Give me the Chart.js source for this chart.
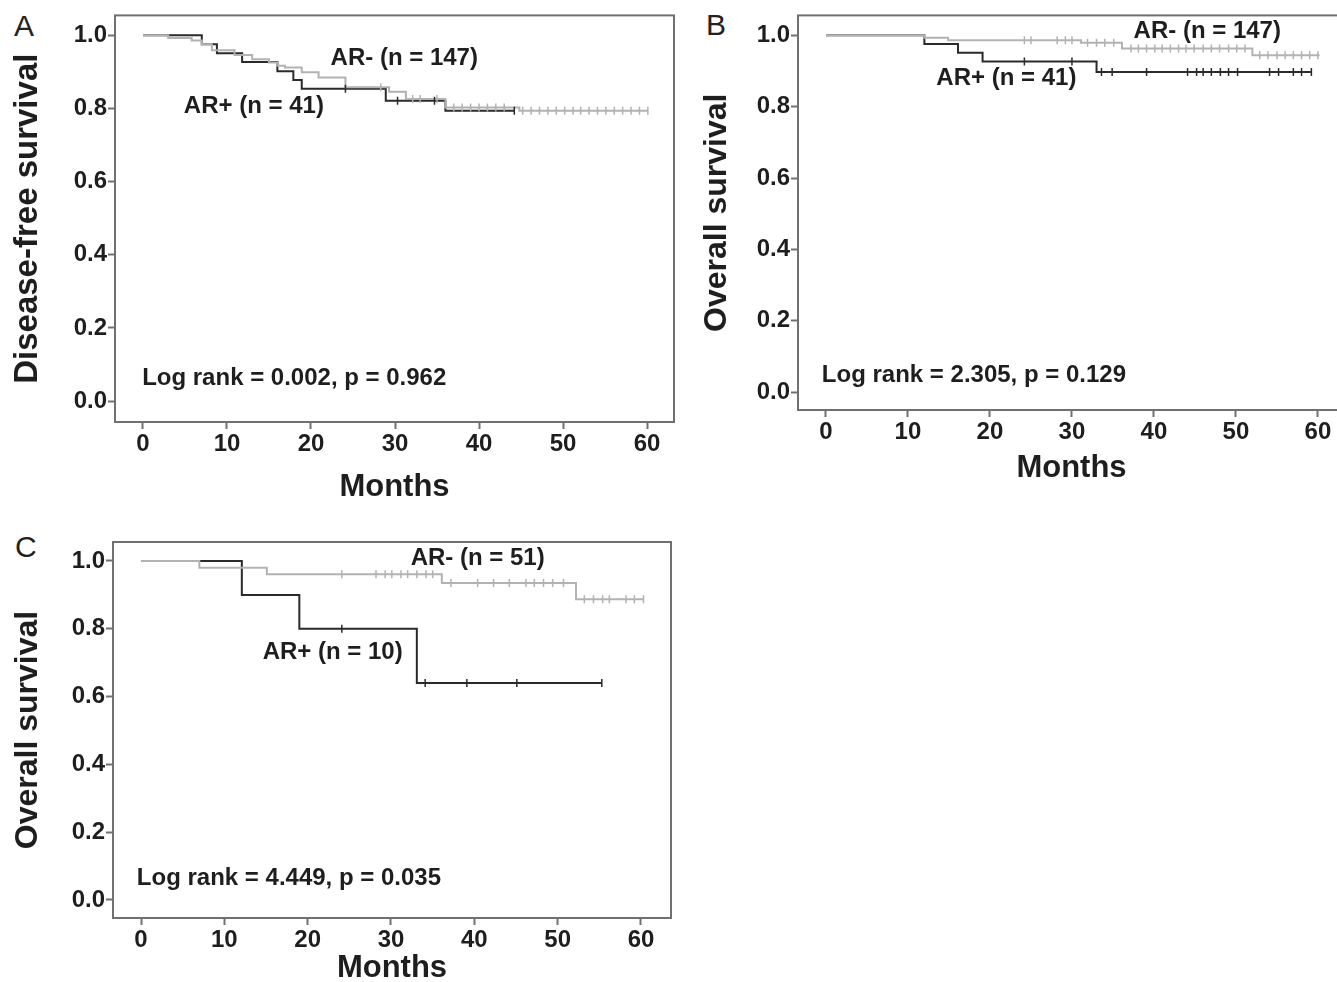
<!DOCTYPE html>
<html>
<head>
<meta charset="utf-8">
<script src="https://cdn.jsdelivr.net/npm/chart.js@4.4.0/dist/chart.umd.min.js"></script>
<style>
  html, body { margin: 0; padding: 0; background: #fff; overflow: hidden; width: 1337px; height: 982px; }
  .panel { position: absolute; }
  .letter { position: absolute; font: 30px "Liberation Sans", Arial, sans-serif; color: #222; line-height: 1; }
</style>
</head>
<body>
<div class="letter" style="left:14px;top:11px">A</div>
<div class="letter" style="left:706px;top:10px">B</div>
<div class="letter" style="left:15px;top:532px">C</div>

<div class="panel" style="left:0;top:0;width:690px;height:510px"><canvas id="chartA"></canvas></div>
<div class="panel" style="left:690px;top:0;width:670px;height:500px"><canvas id="chartB"></canvas></div>
<div class="panel" style="left:0;top:525px;width:690px;height:470px"><canvas id="chartC"></canvas></div>

<script>
// AXES
const monthTicks = [0, 10, 20, 30, 40, 50, 60];
const survivalTicks = [0.0, 0.2, 0.4, 0.6, 0.8, 1.0];

// PANEL A - disease-free survival
const aNegTimes = [0, 3.0, 5.8, 7.0, 8.2, 10.9, 13.0, 15.0, 16.0, 16.9, 18.9, 20.9, 24.1, 29.3, 31.3, 36.0, 44.8, 60.1];
const aNegSurv  = [1, 0.993, 0.986, 0.976, 0.959, 0.946, 0.935, 0.926, 0.917, 0.912, 0.899, 0.885, 0.858, 0.846, 0.826, 0.803, 0.794, 0.794];
const aNegCensored = [28.3, 32.1, 33.0, 35.0, 37.0, 38.0, 39.0, 40.0, 41.0, 42.0, 43.0, 45.2, 46.2, 47.2, 48.2, 49.2, 50.2, 51.2, 52.1, 53.1, 54.1, 55.1, 56.1, 57.1, 58.1, 59.1, 60.1];
const aPosTimes = [0, 7.0, 8.8, 11.8, 16.0, 17.9, 18.9, 28.9, 36.0, 44.2];
const aPosSurv  = [1, 0.976, 0.951, 0.927, 0.902, 0.878, 0.854, 0.821, 0.794, 0.794];
const aPosCensored = [24.1, 30.3, 34.7, 44.2];
const aLabels = ["AR- (n = 147)", "AR+ (n = 41)", "Log rank = 0.002, p = 0.962"];

// PANEL B - overall survival
const bNegTimes = [0, 12.0, 14.9, 31.1, 36.1, 52.0, 60.2];
const bNegSurv  = [1, 0.993, 0.986, 0.979, 0.963, 0.944, 0.944];
const bNegCensored = [24.2, 25.0, 28.2, 29.2, 30.0, 31.9, 33.0, 34.0, 35.1, 37.2, 38.1, 39.1, 40.1, 41.0, 42.0, 43.0, 43.9, 44.9, 46.0, 47.0, 48.0, 49.1, 50.1, 51.1, 52.9, 53.9, 55.0, 56.0, 57.0, 58.0, 59.0, 60.0];
const bPosTimes = [0, 12.0, 16.1, 19.1, 33.0, 59.2];
const bPosSurv  = [1, 0.976, 0.951, 0.927, 0.897, 0.897];
const bPosCensored = [24.2, 30.0, 33.6, 34.9, 39.1, 44.1, 45.2, 46.0, 47.0, 48.1, 49.1, 50.2, 54.1, 55.2, 57.0, 58.0, 59.2];
const bLabels = ["AR- (n = 147)", "AR+ (n = 41)", "Log rank = 2.305, p = 0.129"];

// PANEL C - overall survival
const cNegTimes = [0, 7.0, 15.1, 36.1, 52.2, 60.3];
const cNegSurv  = [1, 0.980, 0.961, 0.935, 0.887, 0.887];
const cNegCensored = [24.1, 28.2, 29.3, 30.1, 31.2, 32.0, 33.1, 34.2, 35.0, 37.2, 40.4, 42.3, 44.2, 46.2, 47.2, 48.3, 49.4, 50.7, 53.2, 54.3, 55.4, 56.2, 58.2, 59.2, 60.3];
const cPosTimes = [0, 12.1, 19.0, 33.1, 55.3];
const cPosSurv  = [1, 0.9, 0.8, 0.64, 0.64];
const cPosCensored = [24.1, 34.1, 39.1, 45.1, 55.3];
const cLabels = ["AR- (n = 51)", "AR+ (n = 10)", "Log rank = 4.449, p = 0.035"];

// STYLE
const FONT = '"Liberation Sans", Arial, sans-serif';
const GREY_LINE = "#b2b2b2";
const DARK_LINE = "#2a2a2a";
const AXIS = "#707070";
const TEXT = "#1e1e1e";

// helpers
const steps = (times, surv) => times.map((t, i) => ({ x: t, y: surv[i] }));
const survAt = (times, surv, t) => {
  let s = surv[0];
  times.forEach((tt, i) => { if (tt <= t + 1e-9) s = surv[i]; });
  return s;
};
const marks = (times, surv, cens) => cens.map(t => ({ x: t, y: survAt(times, surv, t) }));

// box round the plot area
const frame = {
  id: "frame",
  beforeDatasetsDraw(chart) {
    const { ctx, chartArea: a } = chart;
    ctx.save();
    ctx.strokeStyle = AXIS;
    ctx.lineWidth = 2;
    ctx.strokeRect(a.left, a.top, a.right - a.left, a.bottom - a.top);
    ctx.restore();
  }
};

// group labels and log rank text, placed in data units
const notes = {
  id: "notes",
  afterDatasetsDraw(chart, args, opts) {
    const { ctx, scales: { x, y } } = chart;
    ctx.save();
    ctx.fillStyle = TEXT;
    ctx.textBaseline = "middle";
    opts.items.forEach(n => {
      ctx.font = "bold " + n.size + "px " + FONT;
      ctx.textAlign = n.align;
      ctx.fillText(n.text, x.getPixelForValue(n.x), y.getPixelForValue(n.y));
    });
    ctx.restore();
  }
};

const makeChart = (id, p) => {
  const tickFont = { family: FONT, weight: "bold", size: 24 };
  new Chart(document.getElementById(id), {
    type: "line",
    data: {
      datasets: [
        { label: "AR- censored", type: "scatter", data: marks(p.neg[0], p.neg[1], p.neg[2]),
          pointStyle: "line", rotation: 90, radius: 4, borderColor: GREY_LINE, borderWidth: 1.5, order: 0 },
        { label: "AR+ censored", type: "scatter", data: marks(p.pos[0], p.pos[1], p.pos[2]),
          pointStyle: "line", rotation: 90, radius: 4, borderColor: DARK_LINE, borderWidth: 1.5, order: 1 },
        { label: "AR-", data: steps(p.neg[0], p.neg[1]), stepped: true, borderColor: GREY_LINE,
          borderWidth: 2, pointRadius: 0, fill: false, order: 2 },
        { label: "AR+", data: steps(p.pos[0], p.pos[1]), stepped: true, borderColor: DARK_LINE,
          borderWidth: 2, pointRadius: 0, fill: false, order: 3 }
      ]
    },
    options: {
      responsive: true,
      maintainAspectRatio: false,
      animation: false,
      layout: { padding: p.pad },
      plugins: {
        legend: { display: false },
        tooltip: { enabled: false },
        notes: { items: p.notes }
      },
      scales: {
        x: {
          type: "linear",
          min: p.x[0],
          max: p.x[1],
          afterBuildTicks: s => { s.ticks = monthTicks.map(v => ({ value: v })); },
          afterFit: s => { s.height = p.xH; },
          border: { display: false },
          grid: { drawOnChartArea: false, drawTicks: true, tickLength: 7, tickColor: AXIS, tickWidth: 2 },
          ticks: { font: tickFont, color: TEXT, padding: 1, maxRotation: 0, autoSkip: false,
                   callback: v => String(v) },
          title: { display: true, text: "Months", color: TEXT, padding: 0,
                   font: { family: FONT, weight: "bold", size: 31 } }
        },
        y: {
          min: p.y[0],
          max: p.y[1],
          afterBuildTicks: s => { s.ticks = survivalTicks.map(v => ({ value: v })); },
          afterFit: s => { s.width = p.yW; },
          border: { display: false },
          grid: { drawOnChartArea: false, drawTicks: true, tickLength: 7, tickColor: AXIS, tickWidth: 2 },
          ticks: { font: tickFont, color: TEXT, padding: 1, autoSkip: false,
                   callback: v => v.toFixed(1) },
          title: { display: true, text: p.yTitle, color: TEXT, padding: { top: p.yTitlePad, bottom: 0 },
                   font: { family: FONT, weight: "bold", size: p.yTitleSize } }
        }
      }
    },
    plugins: [frame, notes]
  });
};

makeChart("chartA", {
  neg: [aNegTimes, aNegSurv, aNegCensored],
  pos: [aPosTimes, aPosSurv, aPosCensored],
  x: [-3.33, 63.21], y: [-0.0574, 1.0546],
  pad: { left: 0, top: 15, right: 16, bottom: 4.4 },
  yW: 115, xH: 83.6,
  yTitle: "Disease-free survival", yTitleSize: 33, yTitlePad: 8,
  notes: [
    { text: aLabels[0], x: 31.1, y: 0.936, align: "center", size: 24 },
    { text: aLabels[1], x: 13.2, y: 0.805, align: "center", size: 24 },
    { text: aLabels[2], x: -0.1, y: 0.063, align: "left", size: 24 }
  ]
});

makeChart("chartB", {
  neg: [bNegTimes, bNegSurv, bNegCensored],
  pos: [bPosTimes, bPosSurv, bPosCensored],
  x: [-3.41, 63.3], y: [-0.0503, 1.0559],
  pad: { left: 0, top: 14, right: 15, bottom: 13.4 },
  yW: 108, xH: 76.6,
  yTitle: "Overall survival", yTitleSize: 32, yTitlePad: 8,
  notes: [
    { text: bLabels[0], x: 46.5, y: 1.011, align: "center", size: 24 },
    { text: bLabels[1], x: 22.0, y: 0.880, align: "center", size: 24 },
    { text: bLabels[2], x: -0.5, y: 0.047, align: "left", size: 24 }
  ]
});

makeChart("chartC", {
  neg: [cNegTimes, cNegSurv, cNegCensored],
  pos: [cPosTimes, cPosSurv, cPosCensored],
  x: [-3.36, 63.6], y: [-0.0531, 1.056],
  pad: { left: 0, top: 17, right: 19, bottom: 8.4 },
  yW: 113, xH: 68.6,
  yTitle: "Overall survival", yTitleSize: 32, yTitlePad: 9,
  notes: [
    { text: cLabels[0], x: 40.4, y: 1.009, align: "center", size: 24 },
    { text: cLabels[1], x: 23.0, y: 0.729, align: "center", size: 24 },
    { text: cLabels[2], x: -0.5, y: 0.065, align: "left", size: 24 }
  ]
});
</script>
</body>
</html>
